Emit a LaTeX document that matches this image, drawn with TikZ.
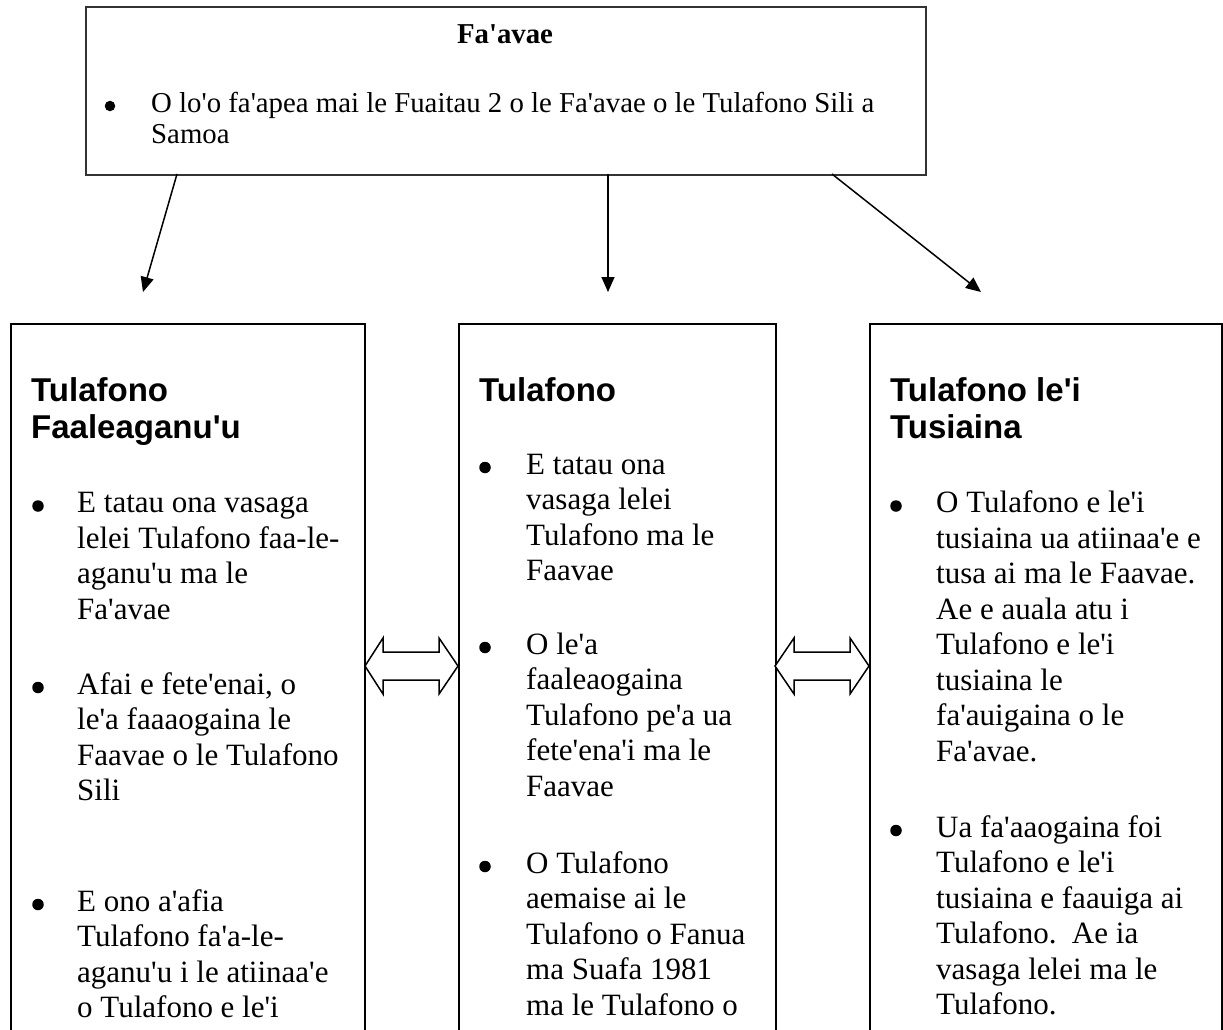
\documentclass[tikz,border=0pt]{standalone}
\usepackage{fontspec}
\newfontfamily\tnr{Liberation Serif}
\newfontfamily\ari{Liberation Sans}
\usetikzlibrary{arrows.meta}
\tikzset{
  panel/.style={draw=black, line width=1.8pt, rectangle, inner sep=0pt, anchor=north west, fill=white},
  topbox/.style={draw=black!80, line width=2.2pt, rectangle, inner sep=0pt, anchor=north west, fill=white},
  bodyline/.style={anchor=base west, inner sep=0pt, font={\tnr\fontsize{31}{35.5}\selectfont}},
  bul/.style={circle, fill=black, inner sep=0pt, minimum size=11.5pt},
  topline/.style={anchor=base west, inner sep=0pt, font={\tnr\fontsize{28.8}{31}\selectfont}},
  topbul/.style={circle, fill=black, inner sep=0pt, minimum size=10.5pt},
  toptitle/.style={anchor=base, inner sep=0pt, font={\tnr\bfseries\fontsize{28.8}{31}\selectfont}},
  head/.style={anchor=base west, inner sep=0pt, font={\ari\bfseries\fontsize{33}{37}\selectfont}},
  conn/.style={line width=1.5pt, -{Triangle[length=15pt,width=13pt]}},
  dblarrow/.style={draw=black, fill=white, line width=1.5pt, line join=miter},
}
\newcommand\bodylines[4]{%
  \foreach \t [count=\i] in {#4} {\node[bodyline] (#1-\i) at (#2,{#3+35.5*(\i-1)}) {\t};}}
\begin{document}
\begin{tikzpicture}[x=1pt,y=-1pt]
\useasboundingbox (0,0) rectangle (1223,1029);
\clip (0,0) rectangle (1223,1029);
\fill[white] (0,0) rectangle (1223,1029);

% top box
\node[topbox, minimum width=840pt, minimum height=168pt] (top) at (85,6) {};
\node[toptitle] (title) at (505,43) {Fa'avae};
\node[topbul] (tb) at (110,106) {};
\node[topline] (t1) at (151,112) {O lo'o fa'apea mai le Fuaitau 2 o le Fa'avae o le Tulafono Sili a};
\node[topline] (t2) at (151,143) {Samoa};

% arrows from top box
\coordinate (s1) at (177,174); \coordinate (e1) at (143,292);
\coordinate (s2) at (608,174); \coordinate (e2) at (608,292);
\coordinate (s3) at (832,174); \coordinate (e3) at (981,292);
\draw[conn] (s1) -- (e1);
\draw[conn] (s2) -- (e2);
\draw[conn] (s3) -- (e3);

% lower boxes
\node[panel, minimum width=354pt, minimum height=760pt] (left) at (10,323) {};
\node[panel, minimum width=317pt, minimum height=760pt] (mid) at (458,323) {};
\node[panel, minimum width=352pt, minimum height=760pt] (right) at (869,323) {};

% double arrows
\draw[dblarrow] (365,666) -- (383,638) -- (383,652) -- (439,652) -- (439,638) -- (458,666)
  -- (439,694) -- (439,680) -- (383,680) -- (383,694) -- cycle;
\draw[dblarrow] (775,666) -- (794,638) -- (794,652) -- (850,652) -- (850,638) -- (869,666)
  -- (850,694) -- (850,680) -- (794,680) -- (794,694) -- cycle;

% left box
\node[head] (lh1) at (31,401) {Tulafono};
\node[head] (lh2) at (31,438) {Faaleaganu'u};
\node[bul] (lb1) at (38,506) {};
\bodylines{la}{77}{512.5}{E tatau ona vasaga, lelei Tulafono faa-le-, aganu'u ma le, Fa'avae}
\node[bul] (lb2) at (38,687.5) {};
\bodylines{lb}{77}{694}{{Afai e fete'enai, o}, le'a faaaogaina le, Faavae o le Tulafono, Sili}
\node[bul] (lb3) at (38,904.5) {};
\bodylines{lc}{77}{911}{E ono a'afia, Tulafono fa'a-le-, aganu'u i le atiinaa'e, o Tulafono e le'i}

% middle box
\node[head] (mh1) at (479,401) {Tulafono};
\node[bul] (mb1) at (485,467.5) {};
\bodylines{ma}{526}{474}{E tatau ona, vasaga lelei, Tulafono ma le, Faavae}
\node[bul] (mb2) at (485,647.5) {};
\bodylines{mb}{526}{654}{O le'a, faaleaogaina, Tulafono pe'a ua, fete'ena'i ma le, Faavae}
\node[bul] (mb3) at (485,866.5) {};
\bodylines{mc}{526}{873}{O Tulafono, aemaise ai le, Tulafono o Fanua, ma Suafa 1981, ma le Tulafono o}

% right box
\node[head] (rh1) at (890,401) {Tulafono le'i};
\node[head] (rh2) at (890,438) {Tusiaina};
\node[bul] (rb1) at (896,506) {};
\bodylines{ra}{936}{512.5}{O Tulafono e le'i, tusiaina ua atiinaa'e e, tusa ai ma le Faavae., Ae e auala atu i, Tulafono e le'i, tusiaina le, fa'auigaina o le, Fa'avae.}
\node[bul] (rb2) at (896,830.5) {};
\bodylines{rb}{936}{837}{Ua fa'aaogaina foi, Tulafono e le'i, tusiaina e faauiga ai, Tulafono.~~Ae ia, vasaga lelei ma le, Tulafono.}
\end{tikzpicture}
\end{document}
